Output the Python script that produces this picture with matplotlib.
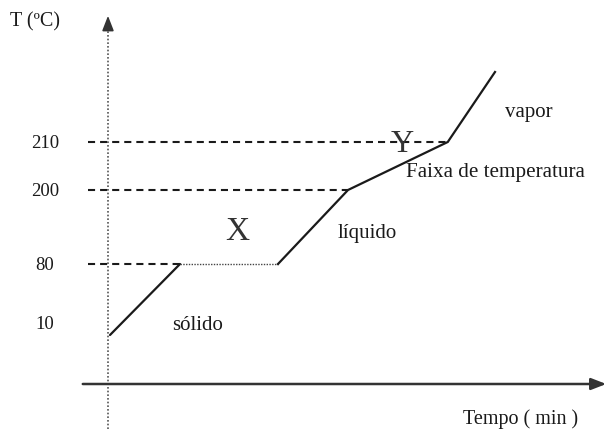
import numpy as np
import matplotlib
matplotlib.use("Agg")
import matplotlib.pyplot as plt

# heating curve (schematic)
tempo = [0, 2, 4.8, 6.8, 9.65, 11]
temp = [10, 80, 80, 200, 210, 225]
ticks_T = [210, 200, 80, 10]
tick_labels = ["210", "200", "80", "10"]

# the drawing is not to scale: temperature -> height in the picture
anchor_T = [-60, 10, 80, 200, 210, 225, 300]
anchor_h = [-9, 95, 166, 240, 288, 358, 441]

def fwd(T):
    return np.interp(T, anchor_T, anchor_h)

def inv(h):
    return np.interp(h, anchor_h, anchor_T)

plt.rcParams['font.family'] = ['Liberation Serif', 'DejaVu Serif']
W, H = 610, 431
fig = plt.figure(figsize=(6.1, 4.31), dpi=100)
ax = fig.add_axes([0, 0, 1, 1])
ax.set_yscale('function', functions=(fwd, inv))
ax.set_xlim(-110 / 35, 500 / 35)
ax.set_ylim(inv(0), inv(431))
ax.axis('off')

def px(x, y):
    return (x / W, 1 - y / H)

ink = '#1a1a1a'

# axes with arrows
ax.plot([px(108, 430)[0]] * 2, [px(108, 430)[1], px(108, 25)[1]], transform=ax.transAxes,
        ls=(0, (1, 1.2)), lw=1.2, color='#555555', clip_on=False)
ax.annotate('', xy=px(108, 14), xytext=px(108, 30), xycoords='axes fraction',
            arrowprops=dict(arrowstyle='-|>,head_length=0.9,head_width=0.35', color='#333333', lw=1.2))
ax.annotate('', xy=px(609, 385), xytext=px(80, 385), xycoords='axes fraction',
            arrowprops=dict(arrowstyle='-|>,head_length=0.9,head_width=0.35', color='#333333', lw=1.8))

# dashed guide lines
x0 = (88 - 110) / 35
dash = (0, (3.4, 2.4))
ax.plot([x0, tempo[1]], [temp[1], temp[1]], ls=dash, lw=1.5, color=ink)
ax.plot([x0, tempo[3]], [temp[3], temp[3]], ls=dash, lw=1.5, color=ink)
ax.plot([x0, tempo[4] - 0.05], [temp[4], temp[4]], ls=dash, lw=1.5, color=ink)

# curve
ax.plot(tempo[:2], temp[:2], color=ink, lw=1.6, solid_capstyle='round')
ax.plot(tempo[1:3], temp[1:3], color='#444444', lw=1.0, ls=(0, (1, 1)))
ax.plot(tempo[2:], temp[2:], color=ink, lw=1.6, solid_joinstyle='miter')

# tick labels
for T, lab in zip(ticks_T, tick_labels):
    off = 8 if T == 10 else 0
    ax.annotate(lab, xy=((45 - 110) / 35, T), xytext=(0, off), textcoords='offset points',
                ha='center', va='center', fontsize=13.5, color=ink)

fig.text(*px(10, 22), "T (ºC)", ha='left', va='center', fontsize=14.5, color=ink)
fig.text(*px(237, 232), "X", ha='center', va='center', fontsize=24, color='#333333')
fig.text(*px(402, 145), "Y", ha='center', va='center', fontsize=23, color='#333333')
fig.text(*px(505, 113), "vapor", ha='left', va='center', fontsize=15, color=ink)
fig.text(*px(406, 173), "Faixa de temperatura", ha='left', va='center', fontsize=15.2, color=ink)
fig.text(*px(338, 234), "líquido", ha='left', va='center', fontsize=15, color=ink)
fig.text(*px(172, 326), "sólido", ha='left', va='center', fontsize=15, color=ink)
fig.text(*px(463, 419), "Tempo ( min )", ha='left', va='center', fontsize=14.5, color=ink)

fig.savefig("out.png", dpi=100)
